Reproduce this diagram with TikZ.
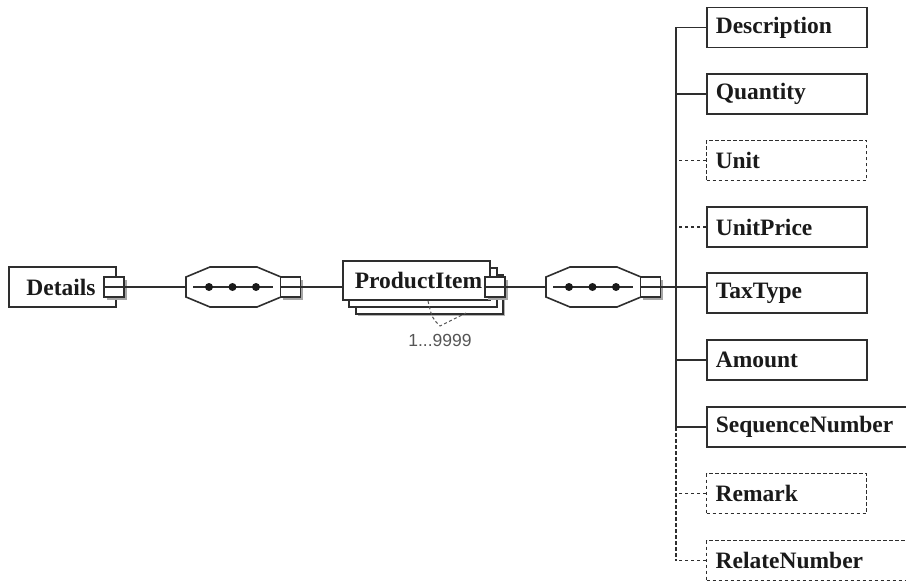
\documentclass[tikz,border=0pt]{standalone}
\usepackage{fontspec}
\setmainfont{Liberation Serif}
\newfontfamily\cardfont{Liberation Sans}
\usetikzlibrary{shadows,calc}
\definecolor{ink}{HTML}{2E2E2E}
\definecolor{txt}{HTML}{1A1A1A}
\definecolor{cardgray}{HTML}{555555}
\tikzset{
  ln/.style={draw=ink, line width=1.6pt},
  dln/.style={ln, line width=1.3pt, dash pattern=on 3.5pt off 2.5pt},
  elem/.style={draw=ink, line width=1.6pt, fill=white, anchor=west,
    minimum height=40pt, text width=142pt, inner xsep=9pt, inner ysep=0pt,
    align=left, text=txt, font=\fontsize{23.5}{27}\selectfont\bfseries},
  optelem/.style={elem, line width=1.3pt, dash pattern=on 3.5pt off 2.5pt},
  wideelem/.style={elem, text width=190pt},
  sqbox/.style={draw=ink, line width=1.6pt, fill=white, minimum size=20pt,
    inner sep=0pt,
    general shadow={fill=black!35, shadow xshift=2.5pt, shadow yshift=-2.5pt},
    path picture={\draw[ink, line width=1.2pt] (path picture bounding box.west) -- (path picture bounding box.east);}},
  octbox/.style={minimum width=95pt, minimum height=40pt, inner sep=0pt},
  dot/.style={circle, fill=txt, inner sep=0pt, minimum size=8pt},
}
\begin{document}
\begin{tikzpicture}[x=1pt,y=-1pt]
\clip (0,0) rectangle (906,583);
\fill[white] (0,0) rectangle (906,583);

% Details
\node[draw=ink, line width=1.6pt, fill=white, minimum width=107pt, minimum height=40pt,
  inner sep=0pt, text=txt, font=\fontsize{23.5}{27}\selectfont\bfseries] (det) at (62.5,287) {Details\hspace*{3pt}};
\node[sqbox] (sd) at (114,287) {};

% sequence compositor 1
\node[octbox] (oct1) at (233.5,287) {};
\draw[ln, fill=white] (186,277) -- (210,267) -- (257,267) -- (281,277) -- (281,297) -- (257,307) -- (210,307) -- (186,297) -- cycle;
\draw[ln] (193,287) -- (273,287);
\node[dot] (d11) at (209,287) {};
\node[dot] (d12) at (232.5,287) {};
\node[dot] (d13) at (256,287) {};
\node[sqbox] (s1) at (290.5,287) {};

% ProductItem stack
\draw[ln, fill=white, general shadow={fill=black!30, shadow xshift=2pt, shadow yshift=-2pt}] (356,275) rectangle (503,314);
\draw[ln, fill=white] (349,268) rectangle (497,307);
\node[draw=ink, line width=1.6pt, fill=white, minimum width=147pt, minimum height=39pt,
  inner sep=0pt, text=txt, font=\fontsize{23.5}{27}\selectfont\bfseries] (pi) at (416.5,280.5) {\hspace*{4pt}ProductItem};
\node[sqbox] (spi) at (495,287) {};
\node[font=\cardfont\fontsize{17.5}{20}\selectfont, text=cardgray, inner sep=0pt] (card) at (440,340) {1...9999};
\draw[cardgray, line width=1pt, dash pattern=on 3pt off 2.5pt] (428,301) .. controls (432,318) .. (440,326) -- (466,313);

% sequence compositor 2
\node[octbox] (oct2) at (593.5,287) {};
\draw[ln, fill=white] (546,277) -- (570,267) -- (617,267) -- (641,277) -- (641,297) -- (617,307) -- (570,307) -- (546,297) -- cycle;
\draw[ln] (553,287) -- (633,287);
\node[dot] (d21) at (569,287) {};
\node[dot] (d22) at (592.5,287) {};
\node[dot] (d23) at (616,287) {};
\node[sqbox] (s2) at (650.5,287) {};

% connectors along the main axis
\draw[ln] (sd.east) -- (oct1.west);
\draw[ln] (s1.east) -- (s1.east -| pi.west);
\draw[ln] (spi.east) -- (oct2.west);

% child elements
\node[elem] (desc) at (706,27.5) {Description};
\node[elem] (qty) at (706,94) {Quantity};
\node[optelem] (unit) at (706,160.5) {Unit};
\node[elem] (uprice) at (706,227) {UnitPrice};
\node[elem] (tax) at (706,293) {TaxType};
\node[elem] (amt) at (706,360) {Amount};
\node[wideelem] (seq) at (706,427) {SequenceNumber};
\node[optelem] (rem) at (706,493.5) {Remark};
\node[wideelem, line width=1.3pt, dash pattern=on 3.5pt off 2.5pt] (rel) at (706,560.5) {RelateNumber};

\coordinate (bus) at (676,287);
\draw[ln] (desc.west -| bus) -- (seq.west -| bus);
\draw[dln] (seq.west -| bus) -- (rel.west -| bus);
\draw[ln] (s2.east) -- (s2.east -| tax.west);
\draw[ln] (desc.west) -- (desc.west -| bus);
\draw[ln] (qty.west) -- (qty.west -| bus);
\draw[dln] (unit.west) -- (unit.west -| bus);
\draw[dln] (uprice.west) -- (uprice.west -| bus);
\draw[ln] (amt.west) -- (amt.west -| bus);
\draw[ln] (seq.west) -- (seq.west -| bus);
\draw[dln] (rem.west) -- (rem.west -| bus);
\draw[dln] (rel.west) -- (rel.west -| bus);
\end{tikzpicture}
\end{document}
